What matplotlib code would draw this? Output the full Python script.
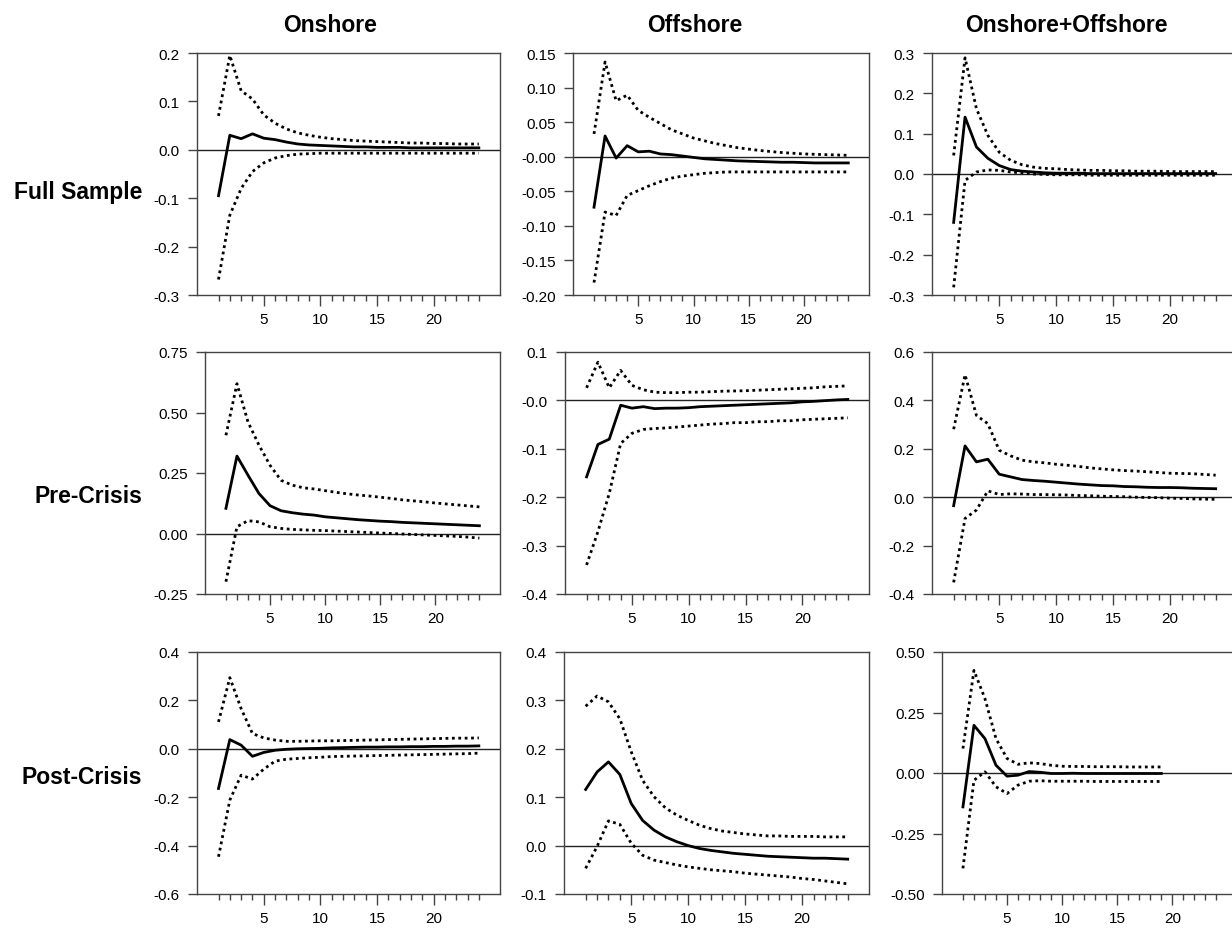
import matplotlib
matplotlib.use("Agg")
import matplotlib.pyplot as plt
import numpy as np

plt.rcParams['font.family'] = ['Liberation Sans', 'DejaVu Sans']

col_titles = ["Onshore", "Offshore", "Onshore+Offshore"]
row_titles = ["Full Sample", "Pre-Crisis", "Post-Crisis"]

# ---- Full Sample ----
fs_on_mid = [-0.095, 0.030, 0.023, 0.033, 0.024, 0.021, 0.016, 0.012, 0.010, 0.009, 0.008, 0.007,
             0.006, 0.006, 0.005, 0.005, 0.005, 0.004, 0.004, 0.004, 0.004, 0.004, 0.004, 0.004]
fs_on_up = [0.070, 0.195, 0.122, 0.105, 0.072, 0.055, 0.043, 0.035, 0.030, 0.026, 0.023, 0.021,
            0.019, 0.018, 0.017, 0.016, 0.015, 0.014, 0.014, 0.013, 0.013, 0.012, 0.012, 0.012]
fs_on_lo = [-0.268, -0.135, -0.080, -0.045, -0.027, -0.017, -0.012, -0.009, -0.008, -0.007, -0.007, -0.007,
            -0.007, -0.007, -0.007, -0.007, -0.007, -0.007, -0.007, -0.007, -0.007, -0.007, -0.007, -0.007]

fs_off_mid = [-0.073, 0.030, -0.002, 0.016, 0.007, 0.008, 0.004, 0.003, 0.001, -0.001, -0.003, -0.004,
              -0.005, -0.006, -0.0065, -0.007, -0.0075, -0.008, -0.008, -0.0085, -0.009, -0.009, -0.009, -0.009]
fs_off_up = [0.033, 0.137, 0.081, 0.089, 0.067, 0.057, 0.048, 0.039, 0.033, 0.027, 0.023, 0.019,
             0.016, 0.013, 0.011, 0.009, 0.0075, 0.006, 0.005, 0.004, 0.0035, 0.003, 0.0025, 0.002]
fs_off_lo = [-0.182, -0.080, -0.085, -0.056, -0.049, -0.042, -0.036, -0.031, -0.028, -0.026, -0.024, -0.023,
             -0.022, -0.022, -0.022, -0.022, -0.022, -0.022, -0.022, -0.022, -0.022, -0.022, -0.022, -0.022]

fs_both_mid = [-0.120, 0.141, 0.067, 0.039, 0.021, 0.011, 0.007, 0.005, 0.003, 0.002, 0.002, 0.002,
               0.001, 0.001, 0.001, 0.001, 0.001, 0.001, 0.001, 0.001, 0.001, 0.001, 0.001, 0.001]
fs_both_up = [0.046, 0.288, 0.162, 0.096, 0.054, 0.034, 0.023, 0.017, 0.014, 0.013, 0.011, 0.010,
              0.009, 0.009, 0.008, 0.008, 0.007, 0.007, 0.007, 0.006, 0.006, 0.006, 0.006, 0.006]
fs_both_lo = [-0.281, -0.016, 0.005, 0.010, 0.009, 0.005, 0.003, 0.000, -0.001, -0.002, -0.002, -0.002,
              -0.003, -0.003, -0.003, -0.003, -0.003, -0.003, -0.003, -0.003, -0.003, -0.003, -0.003, -0.003]

# ---- Pre-Crisis ----
pre_on_mid = [0.104, 0.320, 0.241, 0.165, 0.115, 0.094, 0.086, 0.080, 0.076, 0.069, 0.065, 0.061,
              0.057, 0.054, 0.051, 0.049, 0.046, 0.044, 0.042, 0.040, 0.038, 0.036, 0.034, 0.032]
pre_on_up = [0.406, 0.619, 0.461, 0.365, 0.282, 0.220, 0.200, 0.189, 0.184, 0.177, 0.170, 0.164,
             0.159, 0.155, 0.150, 0.145, 0.139, 0.135, 0.131, 0.126, 0.122, 0.118, 0.114, 0.110]
pre_on_lo = [-0.199, 0.028, 0.053, 0.048, 0.028, 0.021, 0.017, 0.015, 0.013, 0.012, 0.010, 0.008,
             0.006, 0.004, 0.002, 0.000, -0.002, -0.004, -0.006, -0.008, -0.010, -0.012, -0.015, -0.019]

pre_off_mid = [-0.158, -0.091, -0.080, -0.010, -0.016, -0.013, -0.017, -0.016, -0.016, -0.015, -0.013, -0.012,
               -0.011, -0.010, -0.009, -0.008, -0.007, -0.006, -0.005, -0.003, -0.002, -0.0005, 0.001, 0.002]
pre_off_up = [0.026, 0.079, 0.026, 0.062, 0.031, 0.022, 0.017, 0.016, 0.016, 0.017, 0.017, 0.018,
              0.019, 0.0195, 0.020, 0.021, 0.022, 0.023, 0.024, 0.025, 0.026, 0.028, 0.029, 0.030]
pre_off_lo = [-0.340, -0.271, -0.192, -0.089, -0.068, -0.060, -0.058, -0.057, -0.055, -0.053, -0.051, -0.049,
              -0.048, -0.046, -0.046, -0.044, -0.044, -0.042, -0.042, -0.040, -0.039, -0.038, -0.037, -0.036]

pre_both_mid = [-0.035, 0.212, 0.146, 0.157, 0.095, 0.084, 0.073, 0.069, 0.066, 0.062, 0.058, 0.054,
                0.051, 0.048, 0.047, 0.044, 0.043, 0.041, 0.040, 0.040, 0.039, 0.037, 0.036, 0.035]
pre_both_up = [0.281, 0.506, 0.338, 0.304, 0.194, 0.171, 0.153, 0.146, 0.142, 0.136, 0.132, 0.127,
               0.121, 0.117, 0.113, 0.110, 0.108, 0.105, 0.102, 0.099, 0.098, 0.097, 0.094, 0.091]
pre_both_lo = [-0.352, -0.088, -0.053, 0.026, 0.011, 0.014, 0.013, 0.011, 0.011, 0.010, 0.009, 0.007,
               0.006, 0.004, 0.003, 0.002, 0.000, -0.001, -0.002, -0.004, -0.005, -0.007, -0.008, -0.009]

# ---- Post-Crisis ----
post_on_mid = [-0.164, 0.038, 0.015, -0.031, -0.015, -0.006, -0.002, 0.000, 0.001, 0.002, 0.004, 0.005,
               0.006, 0.007, 0.007, 0.008, 0.008, 0.009, 0.009, 0.010, 0.010, 0.011, 0.011, 0.012]
post_on_up = [0.111, 0.294, 0.166, 0.063, 0.045, 0.036, 0.031, 0.031, 0.032, 0.033, 0.033, 0.034,
              0.035, 0.036, 0.037, 0.038, 0.039, 0.040, 0.041, 0.042, 0.043, 0.044, 0.044, 0.045]
post_on_lo = [-0.446, -0.212, -0.109, -0.125, -0.084, -0.051, -0.043, -0.040, -0.037, -0.035, -0.032, -0.031,
              -0.030, -0.029, -0.028, -0.027, -0.026, -0.025, -0.024, -0.023, -0.022, -0.021, -0.020, -0.018]

post_off_mid = [0.116, 0.152, 0.173, 0.147, 0.087, 0.052, 0.032, 0.018, 0.008, 0.000, -0.006, -0.010,
                -0.013, -0.016, -0.018, -0.020, -0.022, -0.023, -0.024, -0.025, -0.026, -0.026, -0.027, -0.028]
post_off_up = [0.288, 0.309, 0.297, 0.262, 0.194, 0.135, 0.101, 0.078, 0.063, 0.052, 0.042, 0.035,
               0.030, 0.027, 0.024, 0.022, 0.020, 0.020, 0.019, 0.019, 0.019, 0.018, 0.018, 0.018]
post_off_lo = [-0.047, -0.002, 0.051, 0.044, 0.005, -0.020, -0.030, -0.035, -0.040, -0.044, -0.047, -0.050,
               -0.052, -0.054, -0.057, -0.059, -0.061, -0.063, -0.065, -0.068, -0.070, -0.073, -0.076, -0.079]

post_both_mid = [-0.140, 0.197, 0.142, 0.032, -0.013, -0.009, 0.006, 0.003, -0.002, -0.002, -0.001, -0.002,
                 -0.002, -0.002, -0.002, -0.002, -0.002, -0.002, -0.002]
post_both_up = [0.101, 0.424, 0.307, 0.142, 0.060, 0.036, 0.042, 0.039, 0.032, 0.028, 0.027, 0.027,
                0.026, 0.026, 0.026, 0.025, 0.025, 0.025, 0.025]
post_both_lo = [-0.394, -0.030, 0.005, -0.057, -0.085, -0.050, -0.034, -0.032, -0.034, -0.034, -0.034, -0.034,
                -0.035, -0.035, -0.035, -0.035, -0.035, -0.035, -0.035]

# y-axis ranges and tick labels per panel
ylims = [[(-0.3, 0.2), (-0.20, 0.15), (-0.3, 0.3)],
         [(-0.25, 0.75), (-0.4, 0.1), (-0.4, 0.6)],
         [(-0.6, 0.4), (-0.1, 0.4), (-0.50, 0.50)]]
yticks = [[[-0.3, -0.2, -0.1, 0.0, 0.1, 0.2],
           [-0.20, -0.15, -0.10, -0.05, 0.0, 0.05, 0.10, 0.15],
           [-0.3, -0.2, -0.1, 0.0, 0.1, 0.2, 0.3]],
          [[-0.25, 0.0, 0.25, 0.5, 0.75],
           [-0.4, -0.3, -0.2, -0.1, 0.0, 0.1],
           [-0.4, -0.2, 0.0, 0.2, 0.4, 0.6]],
          [[-0.6, -0.4, -0.2, 0.0, 0.2, 0.4],
           [-0.1, 0.0, 0.1, 0.2, 0.3, 0.4],
           [-0.5, -0.25, 0.0, 0.25, 0.5]]]
yticklabels = [[["-0.3", "-0.2", "-0.1", "0.0", "0.1", "0.2"],
                ["-0.20", "-0.15", "-0.10", "-0.05", "-0.00", "0.05", "0.10", "0.15"],
                ["-0.3", "-0.2", "-0.1", "0.0", "0.1", "0.2", "0.3"]],
               [["-0.25", "0.00", "0.25", "0.50", "0.75"],
                ["-0.4", "-0.3", "-0.2", "-0.1", "-0.0", "0.1"],
                ["-0.4", "-0.2", "0.0", "0.2", "0.4", "0.6"]],
               [["-0.6", "-0.4", "-0.2", "0.0", "0.2", "0.4"],
                ["-0.1", "0.0", "0.1", "0.2", "0.3", "0.4"],
                ["-0.50", "-0.25", "0.00", "0.25", "0.50"]]]
xtick_major = [5, 10, 15, 20]
xtick_minor = list(range(1, 25))

panels = [[(fs_on_mid, fs_on_up, fs_on_lo), (fs_off_mid, fs_off_up, fs_off_lo), (fs_both_mid, fs_both_up, fs_both_lo)],
          [(pre_on_mid, pre_on_up, pre_on_lo), (pre_off_mid, pre_off_up, pre_off_lo), (pre_both_mid, pre_both_up, pre_both_lo)],
          [(post_on_mid, post_on_up, post_on_lo), (post_off_mid, post_off_up, post_off_lo), (post_both_mid, post_both_up, post_both_lo)]]

W, H = 1232, 929
fig = plt.figure(figsize=(W / 100, H / 100), dpi=100)

row_tops = [54, 353, 653]
ax_h = 242
lefts = [[197, 573, 932], [205, 565, 932], [197, 564, 942]]
rights = [500, 869, 1237]
title_x = [330, 695, 1066]
row_label_y = [193, 497, 778]

spine_col = '#444444'
for r in range(3):
    for c in range(3):
        L = lefts[r][c]
        R = rights[c]
        top = row_tops[r]
        ax = fig.add_axes([L / W, 1 - (top + ax_h) / H, (R - L) / W, ax_h / H])
        mid, up, lo = panels[r][c]
        x = np.arange(1, len(mid) + 1)
        ax.axhline(0, color='#222222', lw=1.0, zorder=1)
        ax.plot(x, up, color='black', lw=2.0, ls=(0, (1, 1.3)), zorder=2)
        ax.plot(x, lo, color='black', lw=2.0, ls=(0, (1, 1.3)), zorder=2)
        ax.plot(x, mid, color='black', lw=2.0, zorder=3)
        ax.set_xlim(-0.9, 25.87)
        ax.set_ylim(*ylims[r][c])
        ax.set_yticks(yticks[r][c])
        ax.set_yticklabels(yticklabels[r][c])
        ax.set_xticks(xtick_major)
        ax.set_xticklabels([str(v) for v in xtick_major])
        ax.set_xticks(xtick_minor, minor=True)
        ax.tick_params(axis='x', which='major', direction='out', length=8, width=1,
                       color=spine_col, labelsize=11, pad=4)
        ax.tick_params(axis='x', which='minor', direction='out', length=4, width=1, color=spine_col)
        ax.tick_params(axis='y', which='major', direction='out', length=6.5, width=1,
                       color=spine_col, labelsize=11, pad=6)
        for s in ax.spines.values():
            s.set_color(spine_col)
            s.set_linewidth(1.0)
        ax.set_facecolor('white')

for c in range(3):
    fig.text(title_x[c] / W, 1 - 26 / H, col_titles[c], ha='center', va='center',
             fontsize=16.5, fontweight='bold')
for r in range(3):
    fig.text(142 / W, 1 - row_label_y[r] / H, row_titles[r], ha='right', va='center',
             fontsize=16.5, fontweight='bold')

fig.savefig('out.png', dpi=100)
